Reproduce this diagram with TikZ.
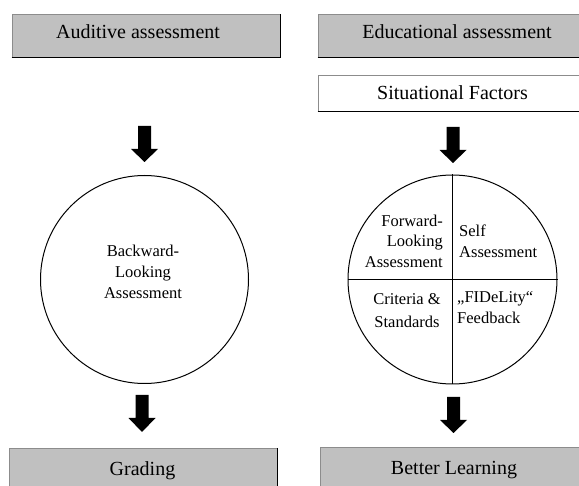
\documentclass[tikz,border=0pt]{standalone}
\usepackage{fontspec}
\setmainfont{Liberation Serif}
\definecolor{boxgray}{HTML}{C0C0C0}
\newcommand\downarrowblock[4]{% cx, top, head start, tip
  \fill[black] (#1-6.5,#2) -- (#1+6.5,#2) -- (#1+6.5,#3) -- (#1+13.5,#3) -- (#1,#4) -- (#1-13.5,#3) -- (#1-6.5,#3) -- cycle;}
\begin{document}
\begin{tikzpicture}[x=1pt,y=-1pt,
  box/.style={draw=black!45, line width=0.7pt, fill=boxgray, inner sep=0pt},
  wbox/.style={box, fill=white},
  shadowedge/.style={line width=1.3pt, black},
  txt/.style={font=\fontsize{20}{24}\selectfont, anchor=base, inner sep=0pt},
  ctxt/.style={font=\fontsize{16.5}{21}\selectfont, inner sep=0pt},
  ring/.style={circle, draw=black, line width=1pt, minimum size=208pt, inner sep=0pt},
  divider/.style={line width=0.8pt, black}]
\useasboundingbox (0,0) rectangle (579,486);
\clip (0,0) rectangle (579,486);

% top boxes
\node[box, minimum width=268pt, minimum height=43pt] (aud) at (146,35.5) {};
\draw[shadowedge] (aud.south west) -- (aud.south east) -- (aud.north east);
\node[txt] (audt) at (138,39) {Auditive assessment};

\node[box, minimum width=282pt, minimum height=43pt] (edu) at (459,35.5) {};
\draw[shadowedge] (edu.south west) -- (edu.south east);
\node[txt] (edut) at (457,39) {Educational assessment};

\node[wbox, minimum width=282pt, minimum height=36pt] (sit) at (459,93) {};
\draw[shadowedge] (sit.south west) -- (sit.south east);
\node[txt] (sitt) at (452.5,100) {Situational Factors};

% arrows
\downarrowblock{144.5}{126}{149}{162}
\downarrowblock{453}{127}{150}{163}
\downarrowblock{142}{395}{418}{432}
\downarrowblock{453.5}{397}{420}{433}

% circles
\node[ring] (lc) at (144.5,279.5) {};
\node[ctxt, align=center] (lct) at (143,272) {Backward-\\Looking\\Assessment};

\node[ring, minimum size=209pt] (rc) at (452.5,279.5) {};
\draw[divider] (rc.north) -- (rc.south);
\draw[divider] (rc.west) -- (rc.east);
\node[ctxt, align=right, anchor=east, font=\fontsize{16.5}{20.3}\selectfont] (fl) at (443,241.3) {Forward-\\Looking\\Assessment};
\node[ctxt, align=left, anchor=west, font=\fontsize{16.5}{20.3}\selectfont] (sa) at (459,241.3) {Self\\Assessment};
\node[ctxt, align=center, font=\fontsize{16.5}{22.7}\selectfont] (cs) at (407,310.7) {Criteria \&\\Standards};
\node[ctxt, align=left, anchor=west] (fb) at (457,307.2) {„FIDeLity“\\Feedback};

% bottom boxes
\node[box, minimum width=268pt, minimum height=52pt] (gr) at (143,474) {};
\draw[shadowedge] (gr.south east) -- (gr.north east);
\node[txt] (grt) at (142.5,476) {Grading};

\node[box, minimum width=280pt, minimum height=53pt] (bl) at (460,473.5) {};
\node[txt] (blt) at (454,475) {Better Learning};
\end{tikzpicture}
\end{document}
